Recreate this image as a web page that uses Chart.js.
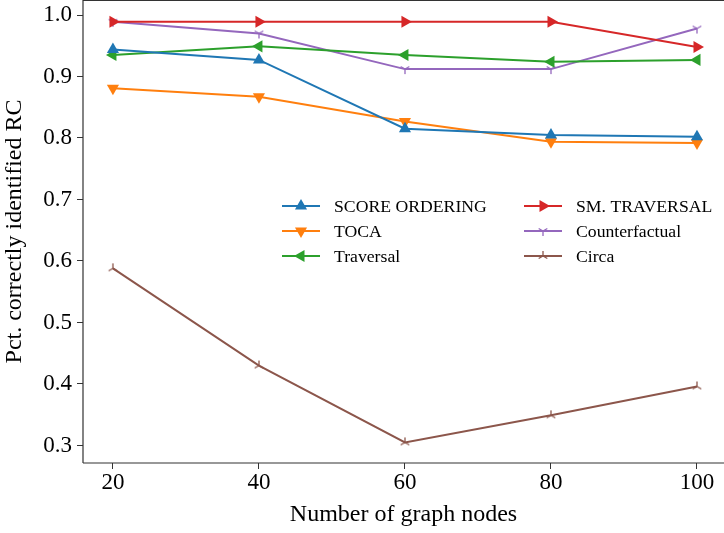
<!DOCTYPE html>
<html><head><meta charset="utf-8">
<script src="https://cdn.jsdelivr.net/npm/chart.js@4/dist/chart.umd.min.js"></script>
<style>html,body{margin:0;padding:0;background:#fff}#wrap{width:724px;height:533px;position:relative}</style>
</head><body><div id="wrap"><canvas id="c" width="724" height="533"></canvas></div>
<script>
const nodes = [20, 40, 60, 80, 100];
const scoreOrdering = [0.944, 0.927, 0.815, 0.805, 0.802];
const toca = [0.881, 0.867, 0.827, 0.794, 0.792];
const traversal = [0.935, 0.949, 0.935, 0.924, 0.927];
const smTraversal = [0.989, 0.989, 0.989, 0.989, 0.948];
const counterfactual = [0.989, 0.970, 0.912, 0.912, 0.978];
const circa = [0.588, 0.430, 0.305, 0.349, 0.396];
const yTicks = [0.3, 0.4, 0.5, 0.6, 0.7, 0.8, 0.9, 1.0];

const FONT = "'Liberation Serif', 'DejaVu Serif', serif";

function triMarker(color, up) {
  const c = document.createElement('canvas');
  c.width = 14; c.height = 14;
  const g = c.getContext('2d');
  g.strokeStyle = color; g.lineWidth = 1.3; g.lineCap = 'butt';
  const cx = 7, cy = 7, r = 5;
  const angs = up ? [-90, 30, 150] : [90, -30, 210];
  g.beginPath();
  angs.forEach(a => {
    const t = a * Math.PI / 180;
    g.moveTo(cx, cy);
    g.lineTo(cx + r * Math.cos(t), cy + r * Math.sin(t));
  });
  g.stroke();
  return c;
}

const series = [
  {label: 'SCORE ORDERING', data: scoreOrdering, color: '#1f77b4', style: 'triangle', rot: 0},
  {label: 'TOCA', data: toca, color: '#ff7f0e', style: 'triangle', rot: 180},
  {label: 'Traversal', data: traversal, color: '#2ca02c', style: 'triangle', rot: 270},
  {label: 'SM. TRAVERSAL', data: smTraversal, color: '#d62728', style: 'triangle', rot: 90},
  {label: 'Counterfactual', data: counterfactual, color: '#9467bd', style: triMarker('#9467bd', false), rot: 0},
  {label: 'Circa', data: circa, color: '#8c564b', style: triMarker('#8c564b', true), rot: 0}
];

const datasets = series.map(s => ({
  label: s.label,
  data: nodes.map((x, i) => ({x: x, y: s.data[i]})),
  borderColor: s.color,
  backgroundColor: s.color,
  borderWidth: 2,
  pointStyle: s.style,
  pointRotation: s.rot,
  pointRadius: 7,
  pointHoverRadius: 7,
  pointBorderWidth: 0,
  tension: 0,
  clip: false
}));

const framePlugin = {
  id: 'frame',
  afterDraw(chart) {
    const {ctx, chartArea: a} = chart;
    ctx.save();
    ctx.strokeStyle = '#333';
    ctx.lineWidth = 1.2;
    ctx.beginPath();
    ctx.moveTo(a.left, a.bottom); ctx.lineTo(a.left, a.top + 0.5);
    ctx.lineTo(a.right, a.top + 0.5);
    ctx.moveTo(a.left, a.bottom); ctx.lineTo(a.right, a.bottom);
    ctx.stroke();
    // legend
    const cols = [{lx: 282, tx: 334}, {lx: 524, tx: 576}];
    const rows = [206, 231, 256];
    ctx.font = "17.7px " + FONT;
    ctx.textBaseline = 'middle';
    ctx.textAlign = 'left';
    series.forEach((s, i) => {
      const col = cols[Math.floor(i / 3)], y = rows[i % 3];
      ctx.strokeStyle = s.color; ctx.lineWidth = 2;
      ctx.beginPath(); ctx.moveTo(col.lx, y); ctx.lineTo(col.lx + 38, y); ctx.stroke();
      const mx = col.lx + 19;
      if (typeof s.style === 'string') {
        ctx.fillStyle = s.color;
        ctx.beginPath();
        const r = 7, rad = s.rot * Math.PI / 180;
        const pts = [[0, -r], [r * 0.866, r * 0.5], [-r * 0.866, r * 0.5]];
        pts.forEach((p, k) => {
          const px = mx + p[0] * Math.cos(rad) - p[1] * Math.sin(rad);
          const py = y + p[0] * Math.sin(rad) + p[1] * Math.cos(rad);
          if (k === 0) ctx.moveTo(px, py); else ctx.lineTo(px, py);
        });
        ctx.closePath(); ctx.fill();
      } else {
        ctx.drawImage(s.style, mx - 7, y - 7);
      }
      ctx.fillStyle = '#000';
      ctx.fillText(s.label, col.tx, y + 1);
    });
    ctx.restore();
  }
};

new Chart(document.getElementById('c'), {
  type: 'line',
  data: {datasets},
  options: {
    responsive: false,
    animation: false,
    layout: {padding: 0, autoPadding: false},
    plugins: {legend: {display: false}, tooltip: {enabled: false}},
    scales: {
      x: {
        type: 'linear', min: 15.9, max: 103.7,
        afterBuildTicks: ax => { ax.ticks = nodes.map(v => ({value: v})); },
        afterFit: ax => { ax.height = 70; ax.paddingLeft = 0; ax.paddingRight = 0; },
        border: {display: false},
        grid: {drawOnChartArea: false, tickLength: 6, color: '#333', tickWidth: 1},
        ticks: {color: '#000', font: {family: FONT, size: 23}, padding: 0, maxRotation: 0},
        title: {display: true, text: 'Number of graph nodes', color: '#000', font: {family: FONT, size: 24}, padding: {top: 0, bottom: 4}}
      },
      y: {
        type: 'linear', min: 0.2715, max: 1.0244,
        afterBuildTicks: ax => { ax.ticks = yTicks.map(v => ({value: v})); },
        afterFit: ax => { ax.width = 83; ax.paddingTop = 0; ax.paddingBottom = 0; },
        border: {display: false},
        grid: {drawOnChartArea: false, tickLength: 6, color: '#333', tickWidth: 1},
        ticks: {color: '#000', font: {family: FONT, size: 23}, padding: 5, callback: v => v.toFixed(1)},
        title: {display: true, text: 'Pct. correctly identified RC', color: '#000', font: {family: FONT, size: 24}, padding: {top: 0, bottom: 4}}
      }
    }
  },
  plugins: [framePlugin]
});
</script></body></html>
